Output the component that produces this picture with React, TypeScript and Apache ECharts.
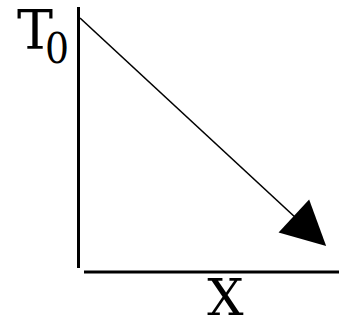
import React, { useEffect, useRef } from "react";
import * as echarts from "echarts";

const xValues = [0, 1];
const tValues = [1, 0];
const yName = "T";
const ySub = "0";
const xName = "X";

export default function App() {
  const ref = useRef<HTMLDivElement>(null);
  useEffect(() => {
    const chart = echarts.init(ref.current!, null, { renderer: "svg" });
    chart.setOption({
      animation: false,
      backgroundColor: "#fff",
      grid: { left: 80, right: 29, top: 18, bottom: 93 },
      xAxis: { type: "value", min: 0, max: 1, show: false },
      yAxis: { type: "value", min: 0, max: 1, show: false },
      series: [
        {
          type: "line",
          data: [],
          markLine: {
            silent: true,
            symbol: ["none", "triangle"],
            symbolSize: [45, 44],
            label: { show: false },
            lineStyle: { color: "#000", width: 1.6, type: "solid" },
            itemStyle: { color: "#000" },
            data: [
              [
                { coord: [xValues[0], tValues[0]] },
                { coord: [xValues[1], tValues[1]] },
              ],
            ],
          },
        },
      ],
      graphic: [
        { type: "line", shape: { x1: 78.5, y1: 7, x2: 78.5, y2: 268 }, style: { stroke: "#000", lineWidth: 3 } },
        { type: "line", shape: { x1: 84, y1: 272, x2: 339, y2: 272 }, style: { stroke: "#000", lineWidth: 3 } },
        { type: "text", x: 35, y: 30, style: { text: yName, fontFamily: "DejaVu Serif", fontSize: 54, fill: "#000", align: "center", verticalAlign: "middle" } },
        { type: "text", x: 57, y: 48, style: { text: ySub, fontFamily: "DejaVu Serif Condensed", fontSize: 42, fill: "#000", align: "center", verticalAlign: "middle" } },
        { type: "text", x: 225.5, y: 297, style: { text: xName, fontFamily: "DejaVu Serif", fontSize: 51, fill: "#000", align: "center", verticalAlign: "middle" } },
      ],
    });
    return () => chart.dispose();
  }, []);
  return <div ref={ref} style={{ width: 339, height: 324, position: "absolute", left: 0, top: 0 }} />;
}
